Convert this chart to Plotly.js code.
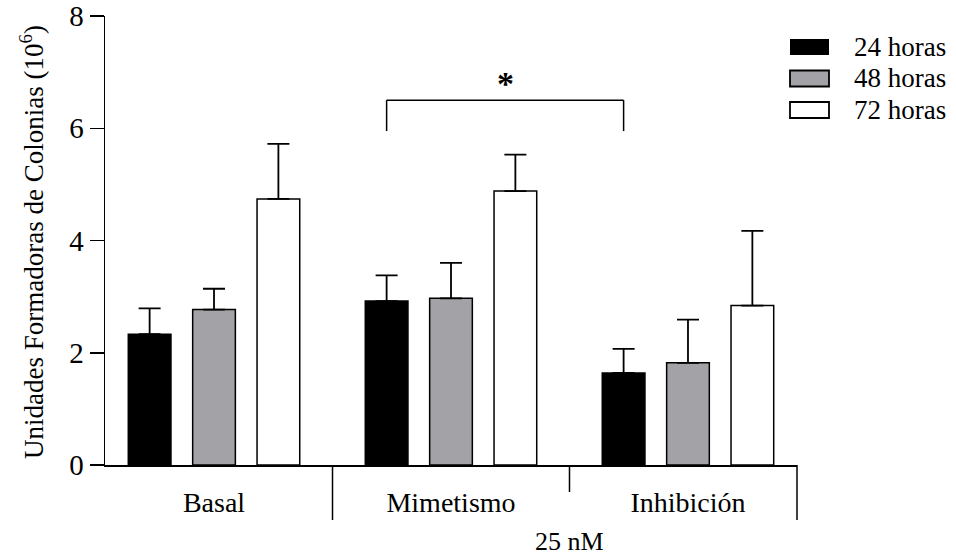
<!DOCTYPE html>
<html>
<head>
<meta charset="utf-8">
<script src="https://cdn.plot.ly/plotly-3.0.1.min.js"></script>
<style>html,body{margin:0;padding:0;background:#fff;}#chart{width:956px;height:558px;}</style>
</head>
<body>
<div id="chart"></div>
<script>
// ---- data ----
const categories = ['Basal', 'Mimetismo', 'Inhibición'];
const seriesNames = ['24 horas', '48 horas', '72 horas'];
const values24 = [2.33, 2.92, 1.64];
const err24 = [0.46, 0.46, 0.43];
const values48 = [2.77, 2.97, 1.82];
const err48 = [0.37, 0.63, 0.77];
const values72 = [4.74, 4.88, 2.84];
const err72 = [0.98, 0.65, 1.33];
const yTicks = [0, 2, 4, 6, 8];
const groupLabel = '25 nM';
const sigPair = ['Mimetismo', 'Inhibición']; // compared at 24 horas
const sigLabel = '*';

// ---- style ----
const FONT = 'Liberation Serif, Times New Roman, serif';
const fills = ['#000000', '#a3a2a6', '#ffffff'];
const bargap = 0.185, bargroupgap = 0.337;
const xRange = [-0.46, 2.46];
const L = 105, R = 159, T = 16, B = 93, W = 956, H = 558;
const plotW = W - L - R, plotH = H - T - B;
const px2x = p => (p - L) / plotW;
const px2y = p => (H - B - p) / plotH;

const vals = [values24, values48, values72];
const errs = [err24, err48, err72];

const traces = seriesNames.map((name, i) => ({
  type: 'bar',
  name: name,
  x: categories,
  y: vals[i],
  marker: {color: fills[i], line: {color: '#000', width: 1.5}},
  error_y: {type: 'data', array: errs[i], arrayminus: errs[i].map(() => 0),
            symmetric: false, color: '#000', thickness: 1.8, width: 11},
  showlegend: false,
  hoverinfo: 'x+y'
}));

const shapes = [];
const annotations = [];

// group dividers below axis
for (let i = 0; i < categories.length - 1; i++) {
  const long = (i === 0);
  shapes.push({type: 'line', xref: 'x', yref: 'paper', x0: i + 0.5, x1: i + 0.5,
    y0: 0, y1: px2y(long ? 520 : 492), line: {color: '#000', width: 1.5}});
}
shapes.push({type: 'line', xref: 'paper', yref: 'paper', x0: 1, x1: 1,
  y0: 0, y1: px2y(520), line: {color: '#000', width: 1.5}});

annotations.push({xref: 'x', yref: 'paper', x: 1.5, y: px2y(541), text: groupLabel,
  showarrow: false, xanchor: 'center', yanchor: 'middle', font: {size: 26}});

// significance bracket
const slot = (1 - bargap) / seriesNames.length;
const off24 = (0 - (seriesNames.length - 1) / 2) * slot;
const xa = categories.indexOf(sigPair[0]) + off24;
const xb = categories.indexOf(sigPair[1]) + off24;
const yTop = 6.5, yLow = 5.95;
[[xa, yLow, xa, yTop], [xa, yTop, xb, yTop], [xb, yTop, xb, yLow]].forEach(s => {
  shapes.push({type: 'line', xref: 'x', yref: 'y', x0: s[0], y0: s[1], x1: s[2], y1: s[3],
    line: {color: '#000', width: 1.5}});
});
annotations.push({xref: 'x', yref: 'y', x: (xa + xb) / 2, y: yTop + 0.3, text: '<b>' + sigLabel + '</b>',
  showarrow: false, xanchor: 'center', yanchor: 'middle', font: {size: 34}});

// y title
annotations.push({xref: 'paper', yref: 'paper', x: px2x(32), y: px2y(242), textangle: -90,
  text: 'Unidades Formadoras de Colonias (10<sup>6</sup>)', showarrow: false,
  xanchor: 'center', yanchor: 'middle', font: {size: 27}});

// legend (drawn manually to match box shapes)
const rowsY = [47, 78.5, 110];
seriesNames.forEach((name, i) => {
  shapes.push({type: 'rect', xref: 'paper', yref: 'paper',
    x0: px2x(790), x1: px2x(829), y0: px2y(rowsY[i] + 8), y1: px2y(rowsY[i] - 8),
    fillcolor: fills[i], line: {color: '#000', width: i === 0 ? 0 : 1.8}});
  annotations.push({xref: 'paper', yref: 'paper', x: px2x(852), y: px2y(rowsY[i]),
    text: name, showarrow: false, xanchor: 'left', yanchor: 'middle', font: {size: 27}});
});

const layout = {
  width: W, height: H,
  margin: {l: L, r: R, t: T, b: B, pad: 0},
  paper_bgcolor: '#fff', plot_bgcolor: '#fff',
  font: {family: FONT, color: '#000', size: 26},
  barmode: 'group', bargap: bargap, bargroupgap: bargroupgap,
  showlegend: false,
  xaxis: {type: 'category', range: xRange, showline: true, linecolor: '#000', linewidth: 1.5,
    ticks: '', showgrid: false, zeroline: false, tickfont: {size: 28}, ticklabelstandoff: 12,
    fixedrange: true},
  yaxis: {range: [0, 8], tickvals: yTicks, showline: true, linecolor: '#000', linewidth: 1.5,
    ticks: 'outside', ticklen: 14, tickwidth: 1.5, tickcolor: '#000', showgrid: false,
    zeroline: false, tickfont: {size: 29}, fixedrange: true},
  shapes: shapes,
  annotations: annotations
};

Plotly.newPlot('chart', traces, layout, {displayModeBar: false, staticPlot: true});
</script>
</body>
</html>
